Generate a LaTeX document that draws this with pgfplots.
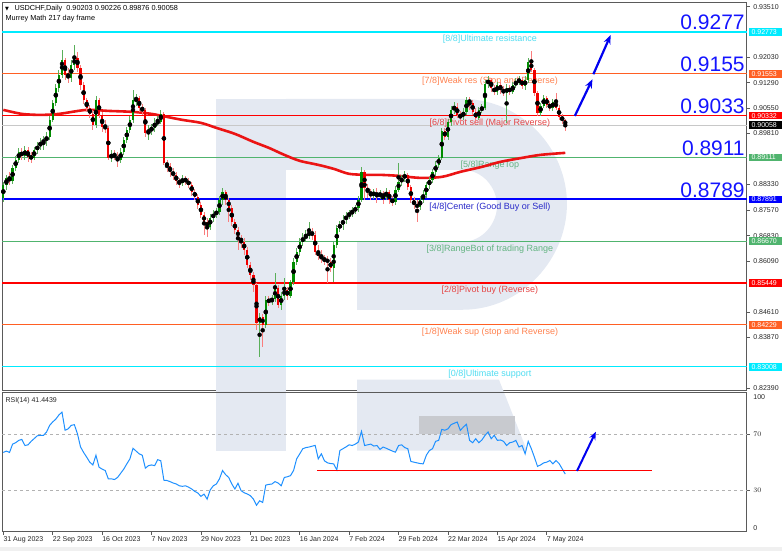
\documentclass[border=0pt]{standalone}
\usepackage{fontspec}
\setmainfont{Liberation Sans}
\newfontfamily\dejavu{DejaVu Sans}
\usepackage{pgfplots}
\pgfplotsset{compat=1.18}
\usepackage{pgfplotstable}
\usetikzlibrary{arrows.meta}

\definecolor{upbody}{RGB}{0,140,0}
\definecolor{upwick}{RGB}{90,175,90}
\definecolor{dnbody}{RGB}{240,0,0}
\definecolor{dnwick}{RGB}{250,125,125}
\definecolor{cC}{RGB}{0,235,255}
\definecolor{cCt}{RGB}{80,220,240}
\definecolor{cO}{RGB}{255,95,35}
\definecolor{cOt}{RGB}{255,130,80}
\definecolor{cR}{RGB}{255,0,0}
\definecolor{cRt}{RGB}{228,70,70}
\definecolor{cG}{RGB}{80,180,110}
\definecolor{cGt}{RGB}{100,180,130}
\definecolor{cB}{RGB}{0,0,255}
\definecolor{cBt}{RGB}{40,40,200}
\definecolor{bignum}{RGB}{20,20,255}
\definecolor{arrowblue}{RGB}{0,0,240}
\definecolor{maRed}{RGB}{235,20,20}
\definecolor{rsiblue}{RGB}{30,144,255}
\definecolor{wm}{RGB}{228,233,242}
\definecolor{framegrey}{RGB}{90,90,90}
\definecolor{curgrey}{RGB}{200,200,200}
\definecolor{rsibox}{RGB}{200,202,207}

\pgfplotstableread{
i o h l c
0 0.87934 0.88401 0.87818 0.88313
1 0.88313 0.88605 0.88168 0.88517
2 0.88517 0.88692 0.88313 0.88430
3 0.88430 0.88896 0.88342 0.88809
4 0.88809 0.89159 0.88721 0.89042
5 0.89042 0.89392 0.88955 0.89275
6 0.89275 0.89392 0.89042 0.89159
7 0.89159 0.89450 0.89042 0.89334
8 0.89334 0.89421 0.88984 0.89130
9 0.89130 0.89275 0.88955 0.89100
10 0.89100 0.89421 0.89042 0.89334
11 0.89334 0.89567 0.89217 0.89450
12 0.89450 0.89683 0.89334 0.89538
13 0.89538 0.89742 0.89334 0.89625
14 0.89625 0.89858 0.89450 0.89712
15 0.89712 0.90325 0.89625 0.90208
16 0.90208 0.90791 0.90150 0.90703
17 0.90703 0.91257 0.90616 0.91141
18 0.91141 0.91666 0.91024 0.91520
19 0.91520 0.92249 0.91432 0.91957
20 0.91957 0.92015 0.91374 0.91520
21 0.91520 0.91724 0.91287 0.91432
22 0.91432 0.91957 0.91316 0.91811
23 0.91811 0.92394 0.91666 0.92015
24 0.92015 0.92190 0.91607 0.91724
25 0.91724 0.91811 0.91083 0.91228
26 0.91228 0.91316 0.90674 0.90791
27 0.90791 0.90849 0.90441 0.90558
28 0.90558 0.90645 0.90266 0.90383
29 0.90383 0.90500 0.89917 0.90062
30 0.90062 0.90908 0.89975 0.90791
31 0.90791 0.90849 0.90266 0.90354
32 0.90354 0.90441 0.89858 0.90004
33 0.90004 0.90208 0.89829 0.89975
34 0.89975 0.90033 0.89042 0.89100
35 0.89100 0.89334 0.88984 0.89188
36 0.89188 0.89334 0.89042 0.89130
37 0.89130 0.89275 0.88838 0.89042
38 0.89042 0.89392 0.88955 0.89275
39 0.89275 0.89712 0.89188 0.89625
40 0.89625 0.90004 0.89538 0.89917
41 0.89917 0.90325 0.89829 0.90208
42 0.90208 0.91083 0.90121 0.90791
43 0.90791 0.90966 0.90616 0.90849
44 0.90849 0.90908 0.90441 0.90558
45 0.90558 0.90674 0.90354 0.90500
46 0.90500 0.90558 0.89712 0.89829
47 0.89829 0.90062 0.89625 0.89917
48 0.89917 0.90091 0.89771 0.89975
49 0.89975 0.90266 0.89858 0.90121
50 0.90121 0.90325 0.90033 0.90150
51 0.90150 0.90500 0.90091 0.90383
52 0.90383 0.90441 0.88896 0.88955
53 0.88955 0.89042 0.88692 0.88867
54 0.88867 0.88955 0.88546 0.88692
55 0.88692 0.88809 0.88459 0.88605
56 0.88605 0.88692 0.88313 0.88430
57 0.88430 0.88517 0.88226 0.88372
58 0.88372 0.88605 0.88284 0.88488
59 0.88488 0.88576 0.88313 0.88430
60 0.88430 0.88517 0.88226 0.88313
61 0.88313 0.88401 0.87992 0.88109
62 0.88109 0.88197 0.87876 0.87963
63 0.87963 0.88051 0.87613 0.87730
64 0.87730 0.87818 0.87351 0.87438
65 0.87438 0.87526 0.86856 0.87234
66 0.87234 0.87351 0.86797 0.87089
67 0.87089 0.87468 0.87001 0.87351
68 0.87351 0.87584 0.87234 0.87468
69 0.87468 0.87643 0.87351 0.87526
70 0.87526 0.87992 0.87438 0.87876
71 0.87876 0.88226 0.87730 0.88109
72 0.88109 0.88168 0.87730 0.87876
73 0.87876 0.87934 0.87234 0.87643
74 0.87643 0.87730 0.87118 0.87234
75 0.87234 0.87322 0.86885 0.87001
76 0.87001 0.87089 0.86419 0.86768
77 0.86768 0.86856 0.86477 0.86652
78 0.86652 0.86768 0.86273 0.86419
79 0.86419 0.86506 0.85894 0.85981
80 0.85981 0.86069 0.85544 0.85690
81 0.85690 0.85778 0.85194 0.85399
82 0.85399 0.85457 0.84087 0.84291
83 0.84291 0.84582 0.83299 0.84466
84 0.84466 0.84553 0.83592 0.84232
85 0.84232 0.85078 0.84145 0.84961
86 0.84961 0.85078 0.84786 0.84903
87 0.84903 0.85107 0.84815 0.84990
88 0.84990 0.85748 0.84903 0.85311
89 0.85311 0.85399 0.84728 0.84815
90 0.84815 0.85194 0.84670 0.85078
91 0.85078 0.85603 0.84961 0.85253
92 0.85253 0.85340 0.84961 0.85078
93 0.85078 0.85544 0.85019 0.85486
94 0.85486 0.86186 0.85399 0.86069
95 0.86069 0.86477 0.85981 0.86360
96 0.86360 0.86768 0.86244 0.86652
97 0.86652 0.86914 0.86535 0.86768
98 0.86768 0.87001 0.86652 0.86826
99 0.86826 0.87234 0.86739 0.86943
100 0.86943 0.87060 0.86710 0.86856
101 0.86856 0.86972 0.86273 0.86360
102 0.86360 0.86564 0.86127 0.86244
103 0.86244 0.86419 0.86040 0.86157
104 0.86157 0.86273 0.85981 0.86127
105 0.86127 0.86244 0.85457 0.86069
106 0.86069 0.86186 0.85778 0.85894
107 0.85894 0.86652 0.85486 0.86564
108 0.86564 0.87147 0.86477 0.87060
109 0.87060 0.87264 0.86943 0.87147
110 0.87147 0.87438 0.87001 0.87293
111 0.87293 0.87526 0.87176 0.87409
112 0.87409 0.87584 0.87322 0.87468
113 0.87468 0.87672 0.87380 0.87555
114 0.87555 0.87730 0.87468 0.87643
115 0.87643 0.87992 0.87526 0.87876
116 0.87876 0.88838 0.87818 0.88692
117 0.88692 0.88751 0.87876 0.88226
118 0.88226 0.88342 0.87934 0.88109
119 0.88109 0.88197 0.87876 0.88022
120 0.88022 0.88197 0.87905 0.88080
121 0.88080 0.88226 0.87788 0.87992
122 0.87992 0.88168 0.87905 0.88051
123 0.88051 0.88138 0.87759 0.87963
124 0.87963 0.88226 0.87876 0.88109
125 0.88109 0.88168 0.87759 0.87876
126 0.87876 0.87992 0.87701 0.87818
127 0.87818 0.88284 0.87730 0.88168
128 0.88168 0.88955 0.88109 0.88401
129 0.88401 0.88605 0.88284 0.88517
130 0.88517 0.88721 0.88401 0.88605
131 0.88605 0.88663 0.88168 0.88255
132 0.88255 0.88313 0.87788 0.87876
133 0.87876 0.87963 0.87613 0.87730
134 0.87730 0.87876 0.87234 0.87672
135 0.87672 0.87992 0.87584 0.87876
136 0.87876 0.88168 0.87788 0.88022
137 0.88022 0.88401 0.87934 0.88313
138 0.88313 0.88546 0.88197 0.88459
139 0.88459 0.88780 0.88372 0.88692
140 0.88692 0.89013 0.88576 0.88896
141 0.88896 0.89188 0.88809 0.89100
142 0.89100 0.89975 0.89042 0.89887
143 0.89887 0.89975 0.89625 0.89712
144 0.89712 0.90237 0.89625 0.90150
145 0.90150 0.90616 0.90033 0.90500
146 0.90500 0.90733 0.90383 0.90587
147 0.90587 0.90703 0.90266 0.90354
148 0.90354 0.90470 0.90150 0.90295
149 0.90295 0.90558 0.90208 0.90441
150 0.90441 0.90878 0.90354 0.90791
151 0.90791 0.90878 0.90500 0.90703
152 0.90703 0.90791 0.90354 0.90441
153 0.90441 0.90558 0.90150 0.90266
154 0.90266 0.90587 0.90208 0.90500
155 0.90500 0.90674 0.90412 0.90558
156 0.90558 0.91374 0.90500 0.91257
157 0.91257 0.91491 0.91141 0.91374
158 0.91374 0.91432 0.91024 0.91141
159 0.91141 0.91228 0.90937 0.91024
160 0.91024 0.91316 0.90937 0.91228
161 0.91228 0.91316 0.90966 0.91083
162 0.91083 0.91199 0.90908 0.90995
163 0.90995 0.91257 0.90121 0.91141
164 0.91141 0.91228 0.90937 0.91024
165 0.91024 0.91316 0.90966 0.91228
166 0.91228 0.91432 0.91141 0.91316
167 0.91316 0.91491 0.91228 0.91374
168 0.91374 0.91461 0.91112 0.91199
169 0.91199 0.91491 0.91083 0.91374
170 0.91374 0.92015 0.91287 0.91899
171 0.91899 0.92219 0.91607 0.91666
172 0.91666 0.91724 0.90908 0.90995
173 0.90995 0.91053 0.90325 0.90412
174 0.90412 0.90703 0.90325 0.90616
175 0.90616 0.90937 0.90558 0.90849
176 0.90849 0.90908 0.90558 0.90645
177 0.90645 0.90762 0.90470 0.90558
178 0.90558 0.90820 0.90470 0.90733
179 0.90733 0.90995 0.90500 0.90558
180 0.90558 0.90645 0.90208 0.90295
181 0.90295 0.90383 0.90091 0.90208
182 0.90203 0.90226 0.89876 0.90058
}\candles

\pgfplotstableread{
i rsi
0 57
1 58
2 57
3 63
4 64
5 65.7
6 66.4
7 62
8 62.5
9 65
10 67
11 69
12 69.3
13 69.3
14 71.7
15 76.5
16 79
17 81
18 84
19 86
20 73
21 74
22 76.5
23 77
24 70.5
25 61
26 57
27 53.6
28 50
29 48
30 55
31 46.4
32 45
33 44
34 38
35 38
36 37.5
37 39
38 42
39 45
40 48.8
41 52.4
42 60
43 58
44 56
45 55
46 45.7
47 47.5
48 48
49 47.5
50 51.8
51 51
52 37
53 36.8
54 36
55 35
56 34.3
57 33
58 32.6
59 33
60 32
61 30.7
62 29
63 27.8
64 25.4
65 27
66 23.4
67 30
68 33
69 34.3
70 38
71 44
72 41
73 39
74 34.3
75 30.7
76 34.8
77 29.5
78 28
79 27.1
80 25.9
81 23.4
82 19
83 22.2
84 21
85 33.5
86 34
87 34.3
88 36
89 35
90 33
91 39
92 39.5
93 40.3
94 44
95 52.4
96 56
97 59.7
98 60.5
99 60.9
100 61.5
101 62.1
102 52.4
103 56
104 51
105 49.5
106 49
107 48.8
108 44.4
109 58.4
110 59.7
111 61
112 62.5
113 62
114 63
115 64.5
116 72.2
117 62
118 62.5
119 63
120 61.6
121 62
122 59.2
123 60.9
124 60
125 59
126 58
127 57.2
128 62
129 62.5
130 60.5
131 59.7
132 50.5
133 50
134 49.5
135 49
136 48.8
137 55
138 58.4
139 59.7
140 65
141 65.7
142 73.6
143 73
144 74
145 77
146 78
147 78.9
148 72.9
149 75.3
150 77.3
151 65.7
152 64
153 66.9
154 64
155 66
156 69.3
157 71.7
158 66.9
159 69.3
160 65.7
161 66
162 65
163 62
164 64
165 64.5
166 65.7
167 60.9
168 62
169 56
170 65
171 59.7
172 53.6
173 47
174 48
175 49.5
176 50
177 51.2
178 48.8
179 51.2
180 49
181 45.2
182 41.44
}\rsidata

\newcommand{\lvl}[5]{% y, line colour, width, label, label colour
  \addplot[#2, line width=#3] coordinates {(-0.32,#1) (240.8,#1)};
  \node[anchor=north, inner sep=0pt, font=\fontsize{9}{10}\selectfont, text=#5, yshift=-3.2pt] at (axis cs:157.6,#1) {#4};
}
\newcommand{\pricebox}[3]{% y, fill, text
  \node[anchor=west, fill=#2, text=white, font=\fontsize{7}{8}\selectfont, inner xsep=2.5pt, inner ysep=1.3pt, text width=28pt, align=left, xshift=2pt] at (axis cs:240.8,#1) {#3};
}
\newcommand{\bignum}[2]{%
  \node[anchor=base east, inner sep=0pt, font=\fontsize{21}{22}\selectfont, text=bignum, xshift=-2pt, yshift=2pt] at (axis cs:240.8,#1) {#2};
}

\begin{document}
\begin{tikzpicture}
\begin{scope}[x=1pt,y=1pt]
\useasboundingbox (0,0) rectangle (782,551);
\fill[black!6] (0,0) rectangle (782,4);
% watermark
\fill[wm] (216,100) rectangle (286,452);
\fill[wm] (286,452) -- (462,452) .. controls (522,452) and (567,402) .. (567,347)
  .. controls (567,292) and (522,241) .. (462,241) -- (357,241) -- (357,309) -- (462,309)
  .. controls (483,309) and (497,328) .. (497,345) .. controls (497,363) and (483,381) .. (462,381)
  -- (286,381) -- cycle;
\fill[wm] (357,171) -- (499,171) -- (527,100) -- (357,100) -- cycle;
\end{scope}

\begin{axis}[
  at={(2pt,160pt)}, anchor=south west,
  scale only axis, width=745pt, height=389pt,
  xmin=-0.32, xmax=240.8, ymin=0.82308, ymax=0.93647,
  set layers, clip=false,
  axis line style={draw=framegrey, line width=0.8pt},
  xtick=\empty,
  ytick={0.93510,0.92030,0.91290,0.90550,0.89810,0.88330,0.87570,0.86830,0.86090,0.84610,0.83870,0.82390},
  yticklabels={0.93510,0.92030,0.91290,0.90550,0.89810,0.88330,0.87570,0.86830,0.86090,0.84610,0.83870,0.82390},
  ytick pos=right, tick align=outside, major tick length=3pt,
  tick style={draw=framegrey, line width=0.6pt},
  yticklabel style={font=\fontsize{7}{8}\selectfont, text=black!85},
]
% current price line
\addplot[curgrey, line width=0.8pt] coordinates {(-0.32,0.90058) (240.8,0.90058)};
% Murrey levels
\lvl{0.92773}{cC}{1.4pt}{[8/8]Ultimate resistance}{cCt}
\lvl{0.91553}{cO}{1.2pt}{[7/8]Weak res (Stop and Reverse)}{cOt}
\lvl{0.90332}{cR}{1.2pt}{[6/8]Pivot sell (Major Reverse)}{cRt}
\lvl{0.89111}{cG}{1.2pt}{[5/8]RangeTop}{cGt}
\lvl{0.87891}{cB}{1.8pt}{[4/8]Center (Good Buy or Sell)}{cBt}
\lvl{0.86670}{cG}{1.2pt}{[3/8]RangeBot of trading Range}{cGt}
\lvl{0.85449}{cR}{1.8pt}{[2/8]Pivot buy (Reverse)}{cRt}
\lvl{0.84229}{cO}{1.2pt}{[1/8]Weak sup (stop and Reverse)}{cOt}
\lvl{0.83008}{cC}{1.4pt}{[0/8]Ultimate support}{cCt}
% 200-day moving average
\addplot[maRed, line width=2.6pt, smooth] coordinates {
(0,0.90500) (6,0.90383) (12,0.90354) (18,0.90383) (27,0.90500) (34,0.90470)
(42,0.90441) (48,0.90383) (53,0.90295) (58,0.90208) (64,0.90121) (69,0.89975)
(75,0.89800) (81,0.89567) (86,0.89392) (91,0.89188) (96,0.89013) (102,0.88896)
(107,0.88780) (112,0.88634) (118,0.88605) (122,0.88605) (128,0.88576) (135,0.88517)
(142,0.88546) (148,0.88692) (155,0.88838) (161,0.88984) (168,0.89100) (174,0.89188)
(182,0.89246)};
% candles: wicks
\addplot[only marks, mark=none, error bars/.cd, y dir=both, y explicit, error mark=none,
  error bar style={line width=0.9pt, upwick}]
  table[x=i, y expr={\thisrow{c}>=\thisrow{o} ? (\thisrow{h}+\thisrow{l})/2 : nan},
        y error expr={(\thisrow{h}-\thisrow{l})/2}] {\candles};
\addplot[only marks, mark=none, error bars/.cd, y dir=both, y explicit, error mark=none,
  error bar style={line width=0.9pt, dnwick}]
  table[x=i, y expr={\thisrow{c}<\thisrow{o} ? (\thisrow{h}+\thisrow{l})/2 : nan},
        y error expr={(\thisrow{h}-\thisrow{l})/2}] {\candles};
% candles: bodies
\addplot[only marks, mark=none, error bars/.cd, y dir=both, y explicit, error mark=none,
  error bar style={line width=2.2pt, upbody, line cap=butt}]
  table[x=i, y expr={\thisrow{c}>=\thisrow{o} ? (\thisrow{o}+\thisrow{c})/2 : nan},
        y error expr={max(abs(\thisrow{c}-\thisrow{o})/2,0.00008)}] {\candles};
\addplot[only marks, mark=none, error bars/.cd, y dir=both, y explicit, error mark=none,
  error bar style={line width=2.2pt, dnbody, line cap=butt}]
  table[x=i, y expr={\thisrow{c}<\thisrow{o} ? (\thisrow{o}+\thisrow{c})/2 : nan},
        y error expr={max(abs(\thisrow{c}-\thisrow{o})/2,0.00008)}] {\candles};
% arrows
\draw[-{Stealth[length=9pt,width=7pt]}, arrowblue, line width=2.2pt] (axis cs:185.1,0.90325) -- (axis cs:190.8,0.91395);
\draw[-{Stealth[length=9pt,width=7pt]}, arrowblue, line width=2.2pt] (axis cs:191.1,0.91540) -- (axis cs:196.7,0.92684);
% big numbers
\bignum{0.92773}{0.9277}
\bignum{0.91553}{0.9155}
\bignum{0.90332}{0.9033}
\bignum{0.89111}{0.8911}
\bignum{0.87891}{0.8789}
% right price boxes
\pricebox{0.92773}{cC}{0.92773}
\pricebox{0.91553}{cO}{0.91553}
\pricebox{0.90332}{cR}{0.90332}
\pricebox{0.90058}{black}{0.90058}
\pricebox{0.89111}{cG}{0.89111}
\pricebox{0.87891}{cB}{0.87891}
\pricebox{0.86670}{cG}{0.86670}
\pricebox{0.85449}{cR}{0.85449}
\pricebox{0.84229}{cO}{0.84229}
\pricebox{0.83008}{cC}{0.83008}
\end{axis}

\begin{axis}[
  at={(2pt,19pt)}, anchor=south west,
  scale only axis, width=745pt, height=139pt,
  xmin=-0.32, xmax=240.8, ymin=0, ymax=100, clip=false,
  axis line style={draw=framegrey, line width=0.8pt},
  xtick={0,16,...,176},
  xticklabels={31 Aug 2023,22 Sep 2023,16 Oct 2023,7 Nov 2023,29 Nov 2023,21 Dec 2023,16 Jan 2024,7 Feb 2024,29 Feb 2024,22 Mar 2024,15 Apr 2024,7 May 2024},
  xtick pos=bottom, ytick={30,70}, ytick pos=right,
  tick align=outside, major tick length=3pt,
  tick style={draw=framegrey, line width=0.6pt},
  xticklabel style={anchor=north west, font=\fontsize{7}{8}\selectfont, inner xsep=0pt, inner ysep=1.5pt, text=black!85},
  yticklabel style={font=\fontsize{7}{8}\selectfont, text=black!85},
]
\fill[rsibox] (axis cs:134.6,70.5) rectangle (axis cs:165.7,83.5);
\addplot[black!30, dashed, line width=0.6pt] coordinates {(-0.32,70) (240.8,70)};
\addplot[black!30, dashed, line width=0.6pt] coordinates {(-0.32,30) (240.8,30)};
\addplot[rsiblue, line width=1pt] table[x=i, y=rsi] {\rsidata};
\addplot[cR, line width=1.8pt] coordinates {(101.6,44) (210,44)};
\draw[-{Stealth[length=8pt,width=6.5pt]}, arrowblue, line width=2pt] (axis cs:185.8,43.7) -- (axis cs:191.9,71.9);
\node[anchor=west, font=\fontsize{7}{8}\selectfont, text=black!85, xshift=3pt, yshift=-4pt] at (axis cs:240.8,100) {100};
\node[anchor=west, font=\fontsize{7}{8}\selectfont, text=black!85, xshift=3pt, yshift=4pt] at (axis cs:240.8,0) {0};
\node[anchor=north west, font=\fontsize{7}{8}\selectfont, text=black!85, inner sep=0pt, xshift=3pt, yshift=-5pt] at (axis cs:-0.32,100) {RSI(14) 41.4439};
\end{axis}

\begin{scope}[x=1pt,y=1pt]
\node[anchor=west, inner sep=0pt, font=\dejavu\fontsize{5}{6}\selectfont] at (4.5,542) {▼};
\node[anchor=west, inner sep=0pt, font=\fontsize{7.3}{8}\selectfont] at (14,542) {USDCHF,Daily\ \ 0.90203 0.90226 0.89876 0.90058};
\node[anchor=west, inner sep=0pt, font=\fontsize{7.3}{8}\selectfont] at (5,532) {Murrey Math 217 day frame};
\end{scope}
\end{tikzpicture}
\end{document}
